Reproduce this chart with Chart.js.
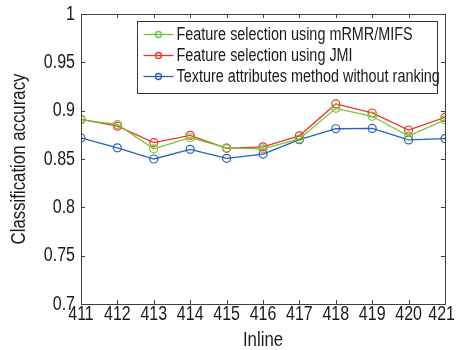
<!DOCTYPE html>
<html>
<head>
<meta charset="utf-8">
<script src="https://cdn.jsdelivr.net/npm/chart.js@4/dist/chart.umd.min.js"></script>
<style>
  html, body { margin: 0; padding: 0; background: #fff; }
  #wrap { width: 457px; height: 350px; }
</style>
</head>
<body>
<div id="wrap"><canvas id="c" width="457" height="350"></canvas></div>
<script>
// Inline numbers along the x axis
const inlines = [411, 412, 413, 414, 415, 416, 417, 418, 419, 420, 421];

// Classification accuracy for each method
const mrmrMifs = [0.8905, 0.8857, 0.8605, 0.8720, 0.8616, 0.8605, 0.8707, 0.9024, 0.8942, 0.8738, 0.8905];
const jmi      = [0.8910, 0.8840, 0.8670, 0.8745, 0.8610, 0.8626, 0.8740, 0.9070, 0.8976, 0.8800, 0.8930];
const noRank   = [0.8718, 0.8616, 0.8500, 0.8600, 0.8507, 0.8551, 0.8700, 0.8813, 0.8816, 0.8697, 0.8711];

const yTicks = [0.7, 0.75, 0.8, 0.85, 0.9, 0.95, 1];
const xTitle = 'Inline';
const yTitle = 'Classification accuracy';

const FONT = '"Liberation Sans", Arial, sans-serif';
const SQUEEZE = 0.8;          // horizontal condensing of all text
const AXIS = '#404040';
const TEXT = '#1a1a1a';

function series(label, data, color) {
  return {
    label, data,
    borderColor: color,
    backgroundColor: 'rgba(0,0,0,0)',
    borderWidth: 1.3,
    pointRadius: 4,
    pointBorderWidth: 1.2,
    pointBackgroundColor: 'rgba(0,0,0,0)',
    pointBorderColor: color,
    tension: 0
  };
}

// condensed text helper
function text(ctx, str, x, y, align, size, rot) {
  ctx.save();
  ctx.translate(x, y);
  if (rot) ctx.rotate(rot);
  ctx.scale(SQUEEZE, 1);
  ctx.font = size + 'px ' + FONT;
  ctx.textAlign = align;
  ctx.textBaseline = 'middle';
  ctx.fillStyle = TEXT;
  ctx.fillText(str, 0, 0);
  ctx.restore();
}

// Box frame with inward ticks on all four sides, tick labels, titles and the boxed legend
const framePlugin = {
  id: 'frame',
  afterDatasetsDraw(chart) {
    const { ctx, chartArea: a, scales } = chart;
    const x = scales.x, y = scales.y;
    ctx.save();
    ctx.strokeStyle = AXIS;
    ctx.lineWidth = 1;
    ctx.strokeRect(a.left + 0.5, a.top + 0.5, a.right - a.left, a.bottom - a.top);
    const t = 4;
    ctx.beginPath();
    inlines.forEach(v => {
      const px = Math.round(x.getPixelForValue(v)) + 0.5;
      ctx.moveTo(px, a.bottom); ctx.lineTo(px, a.bottom - t);
      ctx.moveTo(px, a.top); ctx.lineTo(px, a.top + t);
    });
    yTicks.forEach(v => {
      const py = Math.round(y.getPixelForValue(v)) + 0.5;
      ctx.moveTo(a.left, py); ctx.lineTo(a.left + t, py);
      ctx.moveTo(a.right, py); ctx.lineTo(a.right - t, py);
    });
    ctx.stroke();
    ctx.restore();

    // tick labels
    const tickSize = 20;
    ctx.save();
    ctx.font = tickSize + 'px ' + FONT;
    inlines.forEach(v => {
      const s = String(v);
      const half = ctx.measureText(s).width * SQUEEZE / 2;
      let cx = x.getPixelForValue(v);
      cx = Math.min(cx, chart.width - 2 - half);
      text(ctx, s, cx, a.bottom + 10, 'center', tickSize);
    });
    ctx.restore();
    yTicks.forEach(v => {
      text(ctx, String(+v.toFixed(2)), a.left - 6, y.getPixelForValue(v), 'right', tickSize);
    });

    // axis titles
    text(ctx, xTitle, (a.left + a.right) / 2, a.bottom + 36, 'center', 21);
    text(ctx, yTitle, 19, (a.top + a.bottom) / 2, 'center', 21, -Math.PI / 2);

    // legend
    const bx = 137.5, by = 21.5, bw = 300, bh = 72;
    ctx.save();
    ctx.fillStyle = '#fff';
    ctx.fillRect(bx, by, bw, bh);
    ctx.strokeStyle = '#333';
    ctx.lineWidth = 1;
    ctx.strokeRect(bx, by, bw, bh);
    chart.data.datasets.forEach((ds, i) => {
      const ry = by + 13 + i * 21;
      ctx.strokeStyle = ds.borderColor;
      ctx.lineWidth = 1.3;
      ctx.beginPath();
      ctx.moveTo(bx + 6, ry); ctx.lineTo(bx + 36, ry);
      ctx.stroke();
      ctx.beginPath();
      ctx.arc(bx + 21, ry, 3, 0, Math.PI * 2);
      ctx.stroke();
      text(ctx, ds.label, bx + 39, ry + 1, 'left', 18);
    });
    ctx.restore();
  }
};

new Chart(document.getElementById('c'), {
  type: 'line',
  data: {
    datasets: [
      series('Feature selection using mRMR/MIFS', inlines.map((v, i) => ({ x: v, y: mrmrMifs[i] })), '#74c43a'),
      series('Feature selection using JMI', inlines.map((v, i) => ({ x: v, y: jmi[i] })), '#e8352c'),
      series('Texture attributes method without ranking', inlines.map((v, i) => ({ x: v, y: noRank[i] })), '#2a5fb3')
    ]
  },
  options: {
    responsive: false,
    animation: false,
    layout: { padding: { top: 14, right: 12, left: 81, bottom: 46 } },
    plugins: { legend: { display: false }, tooltip: { enabled: false } },
    scales: {
      x: {
        type: 'linear', min: 411, max: 421,
        afterBuildTicks(s) { s.ticks = inlines.map(v => ({ value: v })); },
        grid: { display: false, drawTicks: false },
        border: { display: false },
        ticks: { display: false }
      },
      y: {
        min: 0.7, max: 1,
        afterBuildTicks(s) { s.ticks = yTicks.map(v => ({ value: v })); },
        grid: { display: false, drawTicks: false },
        border: { display: false },
        ticks: { display: false }
      }
    }
  },
  plugins: [framePlugin]
});
</script>
</body>
</html>
